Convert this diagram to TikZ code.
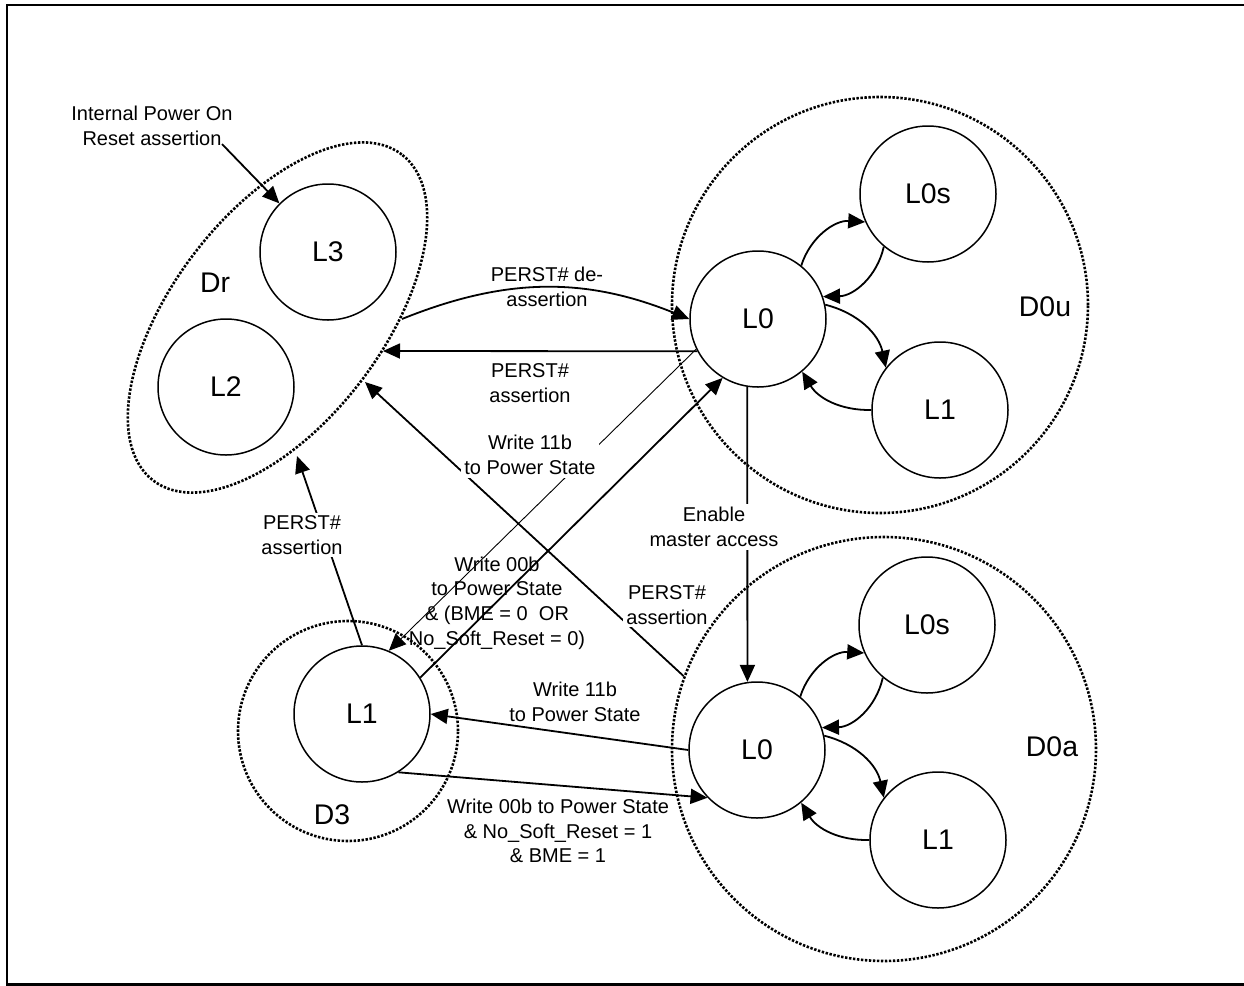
\documentclass[tikz,border=0pt]{standalone}
\usepackage{fontspec}
\setmainfont{Liberation Sans}
\usetikzlibrary{arrows.meta,shapes.geometric,calc}

\begin{document}
\begin{tikzpicture}[x=0.5pt,y=-0.5pt,
  state/.style={circle,draw,line width=0.75pt,minimum size=68pt,inner sep=0pt,
                font=\fontsize{14.2}{16}\selectfont},
  dotline/.style={draw,line width=1.3pt,dash pattern=on 1.2pt off 0.8pt},
  pwrdomain/.style={circle,dotline,inner sep=0pt},
  dname/.style={font=\fontsize{14.2}{16}\selectfont},
  lbl/.style={align=center,font=\fontsize{10}{12.3}\selectfont,inner sep=1.5pt},
  wlbl/.style={lbl,fill=white},
  conn/.style={line width=0.9pt,-{Triangle[length=8.5pt,width=7.5pt]}},
  thinconn/.style={conn,line width=0.45pt},
]
\useasboundingbox (0,0) rectangle (1244,986);
\clip (0,0) rectangle (1244,986);

% outer frame
\draw[line width=1.4pt] (7,5) rectangle (1280,984.5);

% ---- reset domain Dr ----
\node[ellipse,dotline,minimum width=205pt,minimum height=105pt,inner sep=0pt,rotate=52.7] (Dr) at (277.5,317.5) {};
\node[dname] (DrName) at (215,283) {Dr};
\node[state] (L3) at (328,252) {L3};
\node[state] (L2) at (226,387) {L2};
\coordinate (DrA) at (402,319);
\coordinate (DrB) at (383,351);
\coordinate (DrC) at (365,382);
\coordinate (DrD) at (297,456);

% ---- D0 uninitialized ----
\node[pwrdomain,minimum size=208pt] (D0u) at (880,305) {};
\node[dname] (D0uName) at (1045,307) {D0u};
\node[state] (L0u) at (758,319) {L0};
\node[state] (L0su) at (928,194) {L0s};
\node[state] (L1u) at (940,410) {L1};

% ---- D0 active ----
\node[pwrdomain,minimum size=212pt] (D0a) at (884,749) {};
\node[dname] (D0aName) at (1052,747) {D0a};
\node[state] (L0a) at (757,750) {L0};
\node[state] (L0sa) at (927,625) {L0s};
\node[state] (L1a) at (938,840) {L1};

% ---- D3 ----
\node[pwrdomain,minimum size=110pt] (D3) at (348,731) {};
\node[dname] (D3Name) at (332,815) {D3};
\node[state] (L1d) at (362,714) {L1};

% ---- power-on reset ----
\node[lbl] (ipor) at (152,126) {Internal Power On\\Reset assertion};
\draw[conn] ($(ipor.south east)+(-14,-5)$) -- (L3.135);

% ---- transitions between domains ----
\draw[conn] (DrA) to[bend left=22] (L0u.west);
\draw[conn] (L0u.208) -- (DrB);
\draw[conn] (D0a.160) -- (DrC);
\draw[conn] (L1d.north) -- (DrD);
\draw[thinconn] (L0u.206) -- (L1d.67.6);
\draw[conn] (L1d.32.6) -- (L0u.239.7);
\draw[conn] (L0u.261) -- (L0a.98);
\draw[conn] (L0a.west) -- (L1d.east);
\draw[conn] (L1d.-58) -- (L0a.224);

% ---- link-state loops inside D0u ----
\draw[conn] (L0u.51) to[bend left=38] (L0su.204);
\draw[conn] (L0su.230) to[bend left=38] (L0u.19);
\draw[conn] (L0u.12) to[bend left=32] (L1u.142);
\draw[conn] (L1u.180) to[bend left=30] (L0u.-50);

% ---- link-state loops inside D0a ----
\draw[conn] (L0a.51) to[bend left=38] (L0sa.204);
\draw[conn] (L0sa.230) to[bend left=38] (L0a.19);
\draw[conn] (L0a.12) to[bend left=32] (L1a.142);
\draw[conn] (L1a.180) to[bend left=30] (L0a.-50);

% ---- transition labels ----
\node[lbl] (tDeassert) at (547,287) {PERST\# de-\\assertion};
\node[lbl] (tAssertU) at (530,383) {PERST\#\\assertion};
\node[wlbl] (tW11u) at (530,455) {Write 11b\\to Power State};
\node[lbl] (tW00u) at (497,603) {Write 00b\\to Power State\\\& (BME = 0~~OR\\No\_Soft\_Reset = 0)};
\node[wlbl] (tAssertD3) at (302,535) {PERST\#\\assertion};
\node[wlbl] (tAssertA) at (667,605) {PERST\#\\assertion};
\node[wlbl] (tEnable) at (714,527) {Enable\\master access};
\node[lbl] (tW11l) at (575,702) {Write 11b\\to Power State};
\node[lbl] (tW00l) at (558,831) {Write 00b to Power State\\\& No\_Soft\_Reset = 1\\\& BME = 1};
\end{tikzpicture}
\end{document}
